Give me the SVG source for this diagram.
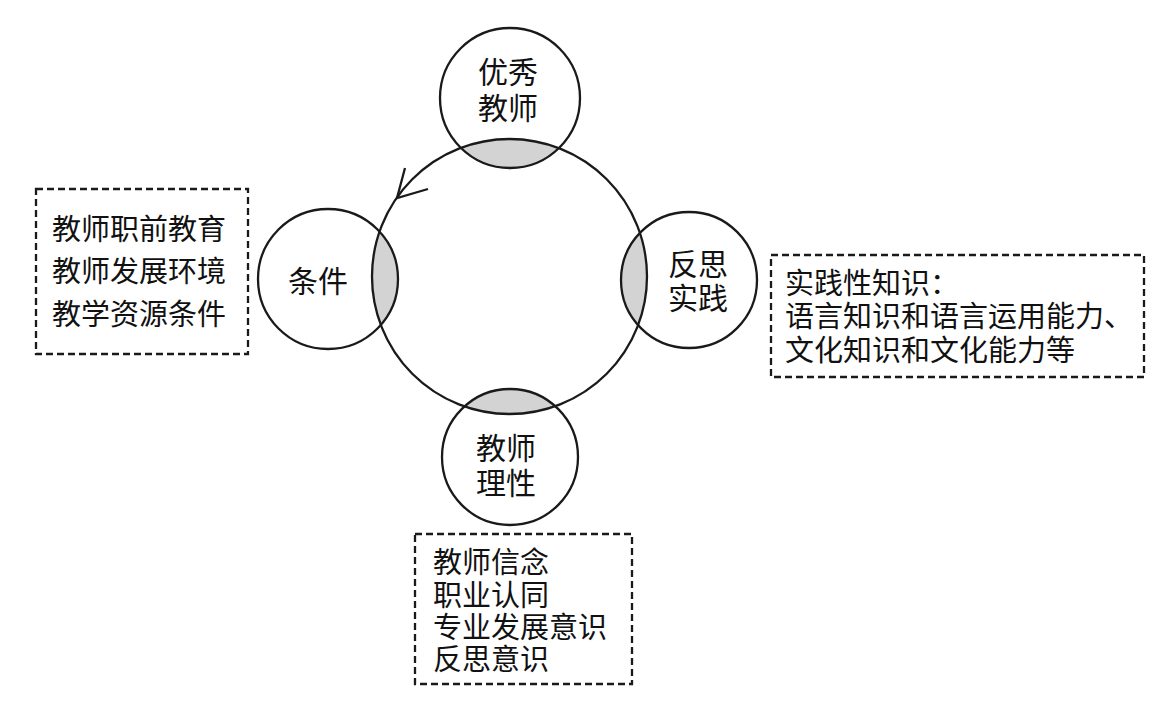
<svg xmlns="http://www.w3.org/2000/svg" width="1168" height="702" viewBox="0 0 1168 702">
  <style>
    .ring { fill: none; stroke: #1a1a1a; stroke-width: 2.3; }
    .lens { fill: #d3d3d3; stroke: none; }
    .box { fill: none; stroke: #1a1a1a; stroke-width: 2.3; stroke-dasharray: 7 4; }
    .t { font-family: "Liberation Sans", "Noto Sans CJK SC", sans-serif; fill: #111; }
    .bt { font-size: 29px; }
    .ct { font-size: 30px; text-anchor: middle; }
    .arrow { fill: none; stroke: #1a1a1a; stroke-width: 2.3; stroke-linejoin: miter; }
  </style>
  <defs>
    <clipPath id="mainClip">
      <circle cx="509.5" cy="276.5" r="137.5"/>
    </clipPath>
  </defs>
  <rect width="1168" height="702" fill="#ffffff"/>

  <g id="overlaps" clip-path="url(#mainClip)">
    <circle class="lens" cx="510" cy="98" r="70"/>
    <circle class="lens" cx="328" cy="279" r="70"/>
    <circle class="lens" cx="689" cy="280" r="68"/>
    <circle class="lens" cx="510" cy="457" r="68"/>
  </g>

  <g id="connectors">
    <circle class="ring" cx="509.5" cy="276.5" r="137.5"/>
    <path class="arrow" d="M405,168 L397,198 L428,189"/>
  </g>

  <g id="node-excellent">
    <circle class="ring" cx="510" cy="98" r="70"/>
    <text class="t ct" x="508" y="83">优秀<tspan x="508" dy="36">教师</tspan></text>
  </g>

  <g id="node-condition">
    <circle class="ring" cx="328" cy="279" r="70"/>
    <text class="t ct" x="318" y="292">条件</text>
  </g>

  <g id="node-practice">
    <circle class="ring" cx="689" cy="280" r="68"/>
    <text class="t ct" x="698" y="275">反思<tspan x="698" dy="34">实践</tspan></text>
  </g>

  <g id="node-rationality">
    <circle class="ring" cx="510" cy="457" r="68"/>
    <text class="t ct" x="506" y="459">教师<tspan x="506" dy="35">理性</tspan></text>
  </g>

  <g id="box-condition">
    <rect class="box" x="36" y="189" width="212" height="165"/>
    <text class="t bt" x="52" y="240">教师职前教育<tspan x="52" dy="42">教师发展环境</tspan><tspan x="52" dy="43">教学资源条件</tspan></text>
  </g>

  <g id="box-practice">
    <rect class="box" x="771" y="255" width="373" height="122"/>
    <text class="t bt" x="785" y="294">实践性知识：<tspan x="785" dy="33">语言知识和语言运用能力、</tspan><tspan x="785" dy="34">文化知识和文化能力等</tspan></text>
  </g>

  <g id="box-rationality">
    <rect class="box" x="415" y="534" width="217" height="150"/>
    <text class="t bt" x="433" y="573">教师信念<tspan x="433" dy="33">职业认同</tspan><tspan x="433" dy="32">专业发展意识</tspan><tspan x="433" dy="32">反思意识</tspan></text>
  </g>
</svg>
